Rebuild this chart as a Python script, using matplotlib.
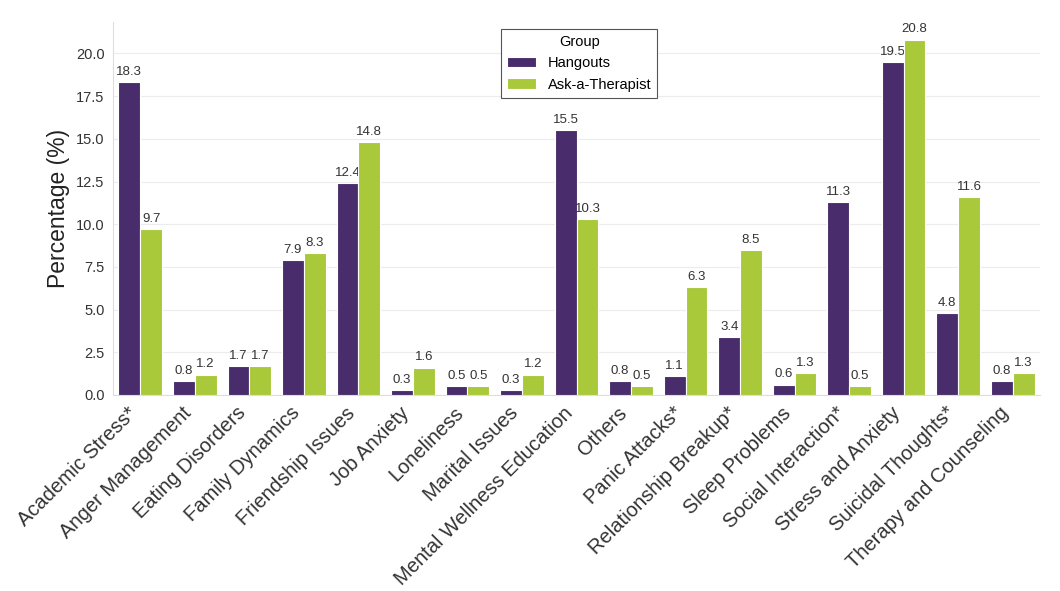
import matplotlib
matplotlib.use("Agg")
import matplotlib.pyplot as plt
import numpy as np

categories = ["Academic Stress*", "Anger Management", "Eating Disorders", "Family Dynamics",
              "Friendship Issues", "Job Anxiety", "Loneliness", "Marital Issues",
              "Mental Wellness Education", "Others", "Panic Attacks*", "Relationship Breakup*",
              "Sleep Problems", "Social Interaction*", "Stress and Anxiety", "Suicidal Thoughts*",
              "Therapy and Counseling"]
hangouts = [18.3, 0.8, 1.7, 7.9, 12.4, 0.3, 0.5, 0.3, 15.5, 0.8, 1.1, 3.4, 0.6, 11.3, 19.5, 4.8, 0.8]
therapist = [9.7, 1.2, 1.7, 8.3, 14.8, 1.6, 0.5, 1.2, 10.3, 0.5, 6.3, 8.5, 1.3, 0.5, 20.8, 11.6, 1.3]
groups = ["Hangouts", "Ask-a-Therapist"]
yticks = [0.0, 2.5, 5.0, 7.5, 10.0, 12.5, 15.0, 17.5, 20.0]

plt.rcParams['font.family'] = ['Liberation Sans', 'DejaVu Sans']

fig = plt.figure(figsize=(10.6, 5.91), dpi=100)
ax = fig.add_axes([113/1060, 1-395/591, 927/1060, 373/591])

x = np.arange(len(categories))
w = 0.4
colors = ['#482c6b', '#a9c83a']
for i, (vals, c) in enumerate(zip([hangouts, therapist], colors)):
    bars = ax.bar(x - w/2 + i*w, vals, width=w, color=c, edgecolor='white', linewidth=0.8,
                  label=groups[i], zorder=3)
    for b, v in zip(bars, vals):
        ax.text(b.get_x() + b.get_width()/2, v + 0.25, f"{v:.1f}", ha='center', va='bottom',
                fontsize=9.5, color='#333333')

ax.set_xlim(-0.5, len(categories) - 0.5)
ax.set_ylim(0, max(max(hangouts), max(therapist)) * 1.05)
ax.set_yticks(yticks)
ax.set_yticklabels([f"{t:.1f}" for t in yticks], fontsize=10.5, color='#333333')
ax.set_xticks(x)
ax.set_xticklabels(categories, rotation=45, ha='right', fontsize=14.5, color='#333333')
ax.tick_params(axis='both', length=0, pad=6)
ax.set_ylabel("Percentage (%)", fontsize=16.5, color='#222222')
ax.grid(axis='y', color='#ececec', linewidth=0.8, zorder=0)
for s in ['top', 'right']:
    ax.spines[s].set_visible(False)
for s in ['left', 'bottom']:
    ax.spines[s].set_color('#dddddd')

leg = ax.legend(title="Group", loc='upper center', fontsize=10.5, title_fontsize=10.5,
                fancybox=False, edgecolor='#555555', framealpha=1,
                bbox_to_anchor=(0.503, 1.0))
leg.get_frame().set_linewidth(0.8)

fig.savefig("out.png", dpi=100)
